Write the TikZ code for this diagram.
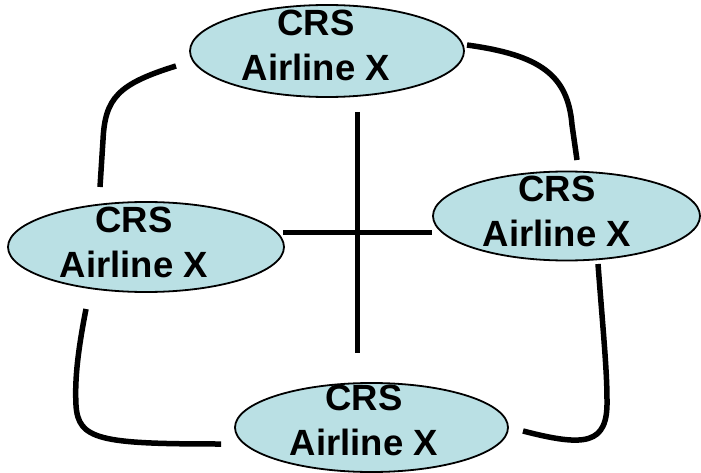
\documentclass[tikz,border=0pt]{standalone}
\usepackage{fontspec}
\setmainfont{Liberation Sans}
\usetikzlibrary{shapes.geometric}
\definecolor{ellfill}{RGB}{186,224,228}
\begin{document}
\begin{tikzpicture}[x=1pt,y=-1pt,
  ell/.style={ellipse,draw=black,line width=1.8pt,fill=ellfill,inner sep=0pt,minimum width=#1},
  ell/.default=272pt,
  lbl/.style={align=center,inner sep=0pt,font=\fontsize{36.5}{45}\selectfont\bfseries},
  wire/.style={line width=5.5pt,line cap=butt}]
\useasboundingbox (0,0) rectangle (701,473);
% ellipses
\node[ell=274pt,minimum height=92pt] (top) at (327,51) {};
\node[ell=276pt,minimum height=90pt] (left) at (146,247) {};
\node[ell=267pt,minimum height=89pt] (right) at (566.5,216) {};
\node[ell=273pt,minimum height=89pt] (bot) at (371.5,427.5) {};
% labels
\node[lbl] (topt) at (316,45) {CRS\\Airline X};
\node[lbl] (leftt) at (134,242.5) {CRS\\Airline X};
\node[lbl] (rightt) at (557,211) {CRS\\Airline X};
\node[lbl] (bott) at (364,420) {CRS\\Airline X};
% connector end points
\coordinate (tl1) at (176,66);
\coordinate (tl2) at (100,187);
\coordinate (tr1) at (467,45);
\coordinate (tr2) at (577,160);
\coordinate (rb1) at (598,264);
\coordinate (rb2) at (523,431);
\coordinate (lb1) at (86,309);
\coordinate (lb2) at (221,444);
\coordinate (vt) at (357.5,112);
\coordinate (vb) at (357.5,353);
\coordinate (hl) at (283,232.5);
\coordinate (hr) at (432,232.5);
% connectors
\draw[wire] (tl1) .. controls (118,84) and (105,98) .. (103,140) -- (tl2);
\draw[wire] (tr1) .. controls (540,55) and (568,75) .. (572,125) -- (tr2);
\draw[wire] (rb1) .. controls (603,330) and (607,370) .. (607,400) .. controls (608,445) and (585,447) .. (rb2);
\draw[wire] (lb1) .. controls (76,360) and (75,385) .. (76,405) .. controls (78,440) and (100,444) .. (lb2);
\draw[wire] (vt) -- (vb);
\draw[wire] (hl) -- (hr);
\end{tikzpicture}
\end{document}
